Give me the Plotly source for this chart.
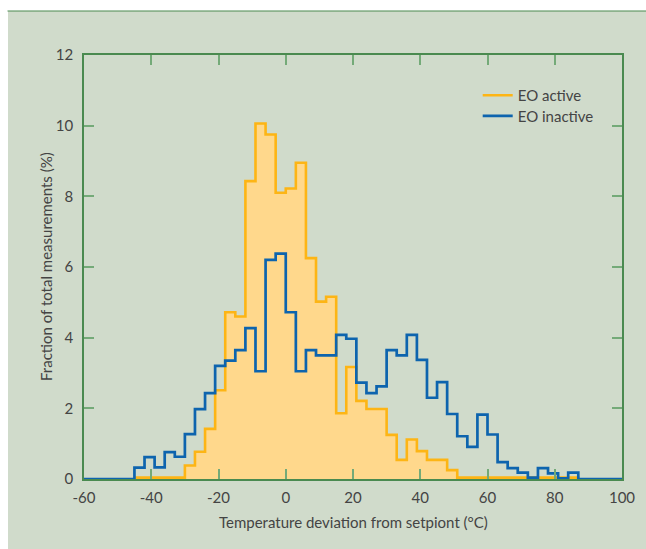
import plotly.graph_objects as go

# Bin left edges (°C), bin width 3
bin_left = [-45, -42, -39, -36, -33, -30, -27, -24, -21, -18,
            -15, -12, -9, -6, -3, 0, 3, 6, 9, 12,
            15, 18, 21, 24, 27, 30, 33, 36, 39, 42,
            45, 48, 51, 54, 57, 60, 63, 66, 69, 72,
            75, 78, 81, 84]
bin_width = 3

eo_inactive = [0.32, 0.62, 0.33, 0.76, 0.63, 1.27, 1.98, 2.43, 3.20, 3.35,
               3.65, 4.27, 3.05, 6.20, 6.38, 4.72, 3.05, 3.65, 3.50, 3.50,
               4.08, 3.97, 2.73, 2.43, 2.62, 3.65, 3.50, 4.08, 3.37, 2.30,
               2.74, 1.84, 1.21, 0.91, 1.82, 1.26, 0.48, 0.31, 0.18, 0.04,
               0.31, 0.16, 0.02, 0.18]

eo_active = [0.04, 0.04, 0.04, 0.04, 0.04, 0.38, 0.77, 1.42, 2.51, 4.72,
             4.60, 8.43, 10.06, 9.75, 8.10, 8.22, 8.95, 6.25, 5.02, 5.16,
             1.86, 3.17, 2.21, 1.98, 1.98, 1.25, 0.54, 1.12, 0.79, 0.54,
             0.54, 0.25, 0.04, 0.04, 0.04, 0.04, 0.04, 0.04, 0.04, 0.04,
             0.04, 0.04, 0.04, 0.04]

x_range = [-60, 100]
y_range = [0, 12]
x_tickvals = [-60, -40, -20, 0, 20, 40, 60, 80, 100]
x_ticktext = ["-60", "-40", "-20", "0", "20", "40", "60", "80", "100"]
y_tickvals = [0, 2, 4, 6, 8, 10, 12]
y_ticktext = ["0", "2", "4", "6", "8", "10", "12"]
x_title = "Temperature deviation from setpiont (°C)"
y_title = "Fraction of total measurements (%)"

ORANGE = "#FDB515"
ORANGE_FILL = "#FFD88C"
BLUE = "#0D64AE"
BG = "#D0DBCB"
AXIS_GREEN = "#4A8A50"
TICK_GREEN = "#74AA78"
TEXT = "#444444"
FONT = "Lato"
FS = 15

def steps(left, vals, width, start=None, end=None):
    xs, ys = [], []
    if start is not None:
        xs.append(start); ys.append(0)
    xs += list(left)
    ys += list(vals)
    xs.append(left[-1] + width); ys.append(0)
    if end is not None:
        xs.append(end); ys.append(0)
    return xs, ys

ax, ay = steps(bin_left, eo_active, bin_width)
bx, by = steps(bin_left, eo_inactive, bin_width, start=x_range[0], end=x_range[1])

fig = go.Figure()
fig.add_trace(go.Scatter(x=ax, y=ay, mode="lines", line_shape="hv",
                         fill="tozeroy", fillcolor=ORANGE_FILL,
                         line=dict(color=ORANGE, width=2.6),
                         showlegend=False, hoverinfo="skip"))
fig.add_trace(go.Scatter(x=bx, y=by, mode="lines", line_shape="hv",
                         line=dict(color=BLUE, width=2.7),
                         showlegend=False, hoverinfo="skip"))
fig.add_trace(go.Scatter(x=[None], y=[None], mode="lines", name="EO active",
                         line=dict(color=ORANGE, width=2.6), legend="legend"))
fig.add_trace(go.Scatter(x=[None], y=[None], mode="lines", name="EO inactive",
                         line=dict(color=BLUE, width=2.7), legend="legend2"))

W, H = 646, 549
L, T = 84, 55
PR, PB = 622, 479
R, B = W - PR, H - PB
pw, ph = PR - L, PB - T

def px_x(px):
    return (px - L) / pw

def px_y(py):
    return (PB - py) / ph

# sage panel with a green rule on top, white strip left and top
fig.add_shape(type="rect", xref="paper", yref="paper",
              x0=px_x(8), x1=px_x(W + 2), y0=px_y(H + 2), y1=px_y(11),
              fillcolor=BG, line=dict(width=0), layer="below")
fig.add_shape(type="line", xref="paper", yref="paper",
              x0=px_x(7.5), x1=px_x(W + 2), y0=px_y(11), y1=px_y(11),
              line=dict(color=AXIS_GREEN, width=1.2))

axis_common = dict(showgrid=False, zeroline=False, showline=True,
                   linecolor=AXIS_GREEN, linewidth=1.5, mirror="ticks",
                   ticks="inside", ticklen=10, tickwidth=1.5, tickcolor=TICK_GREEN,
                   tickfont=dict(family=FONT, size=FS, color=TEXT))

fig.update_xaxes(range=x_range, tickvals=x_tickvals, ticktext=x_ticktext,
                 ticklabelstandoff=4, **axis_common)
fig.update_yaxes(range=y_range, tickvals=y_tickvals, ticktext=y_ticktext,
                 ticklabelstandoff=6, **axis_common)

fig.add_annotation(text=x_title, xref="paper", yref="paper",
                   x=0.5, y=px_y(521.7), xanchor="center", yanchor="middle",
                   showarrow=False, font=dict(family=FONT, size=FS, color=TEXT))
fig.add_annotation(text=y_title, xref="paper", yref="paper", textangle=-90,
                   x=px_x(46), y=0.5, xanchor="center", yanchor="middle",
                   showarrow=False, font=dict(family=FONT, size=FS, color=TEXT))

leg_common = dict(xanchor="left", yanchor="top", bgcolor="rgba(0,0,0,0)",
                  borderwidth=0, font=dict(family=FONT, size=FS, color=TEXT),
                  itemwidth=30)
fig.update_layout(width=W, height=H, autosize=False,
                  margin=dict(l=L, r=R, t=T, b=B, autoexpand=False),
                  paper_bgcolor="white", plot_bgcolor=BG,
                  font=dict(family=FONT, size=FS, color=TEXT),
                  legend=dict(x=px_x(477.7), y=px_y(79), **leg_common),
                  legend2=dict(x=px_x(477.7), y=px_y(99.7), **leg_common))

fig.write_html("out.html",
               config={"displayModeBar": False},
               post_script="document.body.style.margin='0';document.body.style.overflow='hidden';")
